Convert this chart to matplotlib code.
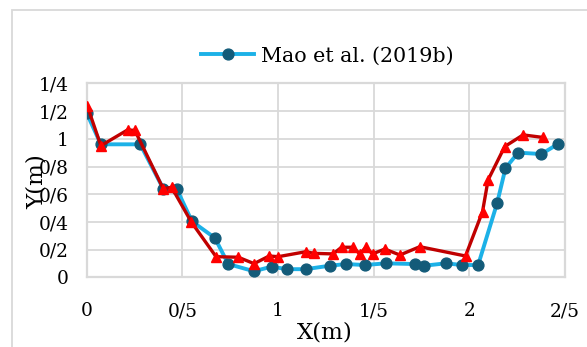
import matplotlib
matplotlib.use("Agg")
import matplotlib.pyplot as plt
from matplotlib.patches import Rectangle

# Mao et al. (2019b) - blue circles
x_mao = [0.0, 0.074, 0.28, 0.40, 0.47, 0.55, 0.67, 0.74, 0.874, 0.966, 1.048, 1.144,
         1.271, 1.355, 1.454, 1.564, 1.715, 1.764, 1.876, 1.964, 2.046, 2.145, 2.189,
         2.255, 2.377, 2.464]
y_mao = [1.185, 0.96, 0.96, 0.64, 0.64, 0.405, 0.285, 0.097, 0.045, 0.078, 0.06, 0.06,
         0.085, 0.097, 0.09, 0.102, 0.097, 0.085, 0.102, 0.09, 0.09, 0.535, 0.788,
         0.90, 0.89, 0.963]

# second series - red triangles
x_red = [0.003, 0.074, 0.214, 0.252, 0.40, 0.444, 0.547, 0.676, 0.792, 0.875, 0.954,
         1.001, 1.146, 1.188, 1.288, 1.332, 1.39, 1.428, 1.459, 1.494, 1.558, 1.637,
         1.741, 1.98, 2.069, 2.098, 2.185, 2.281, 2.383]
y_red = [1.237, 0.95, 1.064, 1.06, 0.64, 0.65, 0.40, 0.15, 0.146, 0.10, 0.155,
         0.15, 0.186, 0.174, 0.17, 0.218, 0.218, 0.17, 0.218, 0.17, 0.205, 0.162,
         0.222, 0.155, 0.475, 0.703, 0.944, 1.028, 1.01]

x_ticks = [0, 0.5, 1, 1.5, 2, 2.5]
x_tick_labels = ["0", "0/5", "1", "1/5", "2", "2/5"]
y_ticks = [0, 0.2, 0.4, 0.6, 0.8, 1.0, 1.2, 1.4]
y_tick_labels = ["0", "0/2", "0/4", "0/6", "0/8", "1", "1/2", "1/4"]

plt.rcParams["font.family"] = "DejaVu Serif"

fig = plt.figure(figsize=(5.87, 3.47), dpi=100)
ax = fig.add_axes([0.1477, 0.2003, 0.8148, 0.5597])

grid_col = "#d9d9d9"

# chart area border
fig.patches.append(Rectangle((12 / 587, -0.1), 1.2, 1 - 10 / 347 + 0.1,
                             transform=fig.transFigure, fill=False,
                             edgecolor=grid_col, linewidth=1.3))

ax.plot(x_mao, y_mao, color="#1cb1e7", linewidth=2.8, marker="o",
        markersize=7.8, markerfacecolor="#135b79", markeredgecolor="#135b79",
        label="Mao et al. (2019b)", zorder=3)
ax.plot(x_red, y_red, color="#c00000", linewidth=2.4, marker="^",
        markersize=7.5, markerfacecolor="#ff0000", markeredgecolor="#ff0000",
        zorder=4)

ax.set_xlim(0, 2.5)
ax.set_ylim(0, 1.4)
ax.set_xticks(x_ticks)
ax.set_xticklabels(x_tick_labels)
ax.set_yticks(y_ticks)
ax.set_yticklabels(y_tick_labels)
ax.tick_params(axis="x", length=0, pad=18, labelsize=13.4)
ax.tick_params(axis="y", length=0, pad=13, labelsize=13.4)

ax.grid(True, color=grid_col, linewidth=1.3)
ax.set_axisbelow(True)
for s in ax.spines.values():
    s.set_color(grid_col)
    s.set_linewidth(1.6)

# axis titles (Y(m) sits over the tick labels, as in the original)
fig.text(325 / 587, 1 - 332 / 347, "X(m)", ha="center", va="center", fontsize=16.5)
fig.text(37 / 587, 1 - 182 / 347, "Y(m)", ha="center", va="center",
         rotation=90, fontsize=16.5)

fig.legend(loc="center", bbox_to_anchor=(327 / 587, 1 - 56 / 347), frameon=False,
           fontsize=14.9, handlelength=2.6, handletextpad=0.3)

fig.savefig("out.png", dpi=100)
